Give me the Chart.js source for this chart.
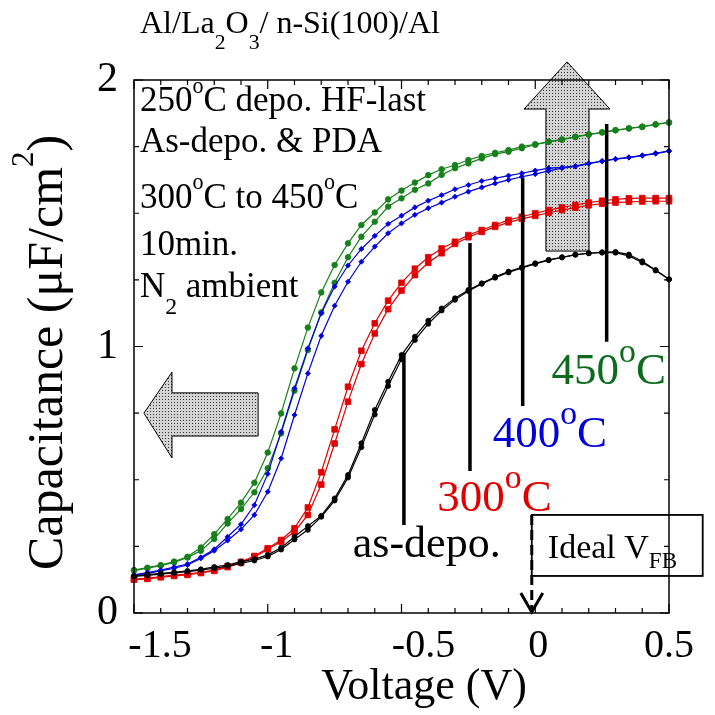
<!DOCTYPE html>
<html>
<head>
<meta charset="utf-8">
<script src="https://cdn.jsdelivr.net/npm/chart.js@4.4.1/dist/chart.umd.min.js"></script>
<style>
  html, body { margin: 0; padding: 0; background: #fff; }
  #wrap { width: 715px; height: 715px; }
</style>
</head>
<body>
<div id="wrap"><canvas id="cvChart" width="715" height="715"></canvas></div>
<script>
// gate voltage (V), one point every 50 mV
const voltage = [-1.5, -1.45, -1.4, -1.35, -1.3, -1.25, -1.2, -1.15, -1.1, -1.05,
  -1.0, -0.95, -0.9, -0.85, -0.8, -0.75, -0.7, -0.65, -0.6, -0.55,
  -0.5, -0.45, -0.4, -0.35, -0.3, -0.25, -0.2, -0.15, -0.1, -0.05,
  0, 0.05, 0.1, 0.15, 0.2, 0.25, 0.3, 0.35, 0.4, 0.45, 0.5];

// capacitance (uF/cm2), two sweeps per sample
const asDepoFwd = [0.139, 0.144, 0.149, 0.153, 0.158, 0.164, 0.173, 0.180, 0.193, 0.202,
  0.218, 0.245, 0.286, 0.326, 0.365, 0.430, 0.518, 0.637, 0.762, 0.868,
  0.968, 1.037, 1.097, 1.143, 1.181, 1.212, 1.237, 1.262, 1.281, 1.297,
  1.312, 1.325, 1.335, 1.345, 1.350, 1.352, 1.352, 1.340, 1.315, 1.285, 1.252];
const asDepoRev = [0.137, 0.141, 0.146, 0.150, 0.155, 0.161, 0.168, 0.176, 0.186, 0.197,
  0.212, 0.238, 0.276, 0.312, 0.361, 0.422, 0.508, 0.622, 0.745, 0.852,
  0.952, 1.024, 1.085, 1.135, 1.175, 1.208, 1.235, 1.258, 1.278, 1.295,
  1.310, 1.324, 1.334, 1.344, 1.350, 1.354, 1.355, 1.345, 1.320, 1.287, 1.252];
const pda300Fwd = [0.127, 0.130, 0.137, 0.142, 0.146, 0.153, 0.161, 0.176, 0.192, 0.214,
  0.243, 0.274, 0.318, 0.396, 0.528, 0.689, 0.849, 0.984, 1.087, 1.172,
  1.239, 1.292, 1.335, 1.368, 1.393, 1.418, 1.437, 1.456, 1.475, 1.487,
  1.500, 1.512, 1.522, 1.531, 1.540, 1.547, 1.552, 1.556, 1.557, 1.557, 1.557];
const pda300Rev = [0.125, 0.128, 0.134, 0.139, 0.143, 0.150, 0.158, 0.172, 0.188, 0.209,
  0.239, 0.268, 0.305, 0.368, 0.482, 0.636, 0.793, 0.934, 1.049, 1.140,
  1.210, 1.268, 1.314, 1.350, 1.385, 1.410, 1.430, 1.449, 1.466, 1.479,
  1.490, 1.502, 1.512, 1.521, 1.530, 1.536, 1.540, 1.543, 1.544, 1.545, 1.545];
const pda400Fwd = [0.143, 0.152, 0.161, 0.172, 0.184, 0.209, 0.239, 0.286, 0.333, 0.405,
  0.522, 0.680, 0.843, 0.993, 1.125, 1.225, 1.304, 1.366, 1.415, 1.460,
  1.491, 1.522, 1.547, 1.568, 1.590, 1.606, 1.621, 1.631, 1.641, 1.650,
  1.660, 1.669, 1.672, 1.677, 1.687, 1.696, 1.704, 1.710, 1.717, 1.725, 1.734];
const pda400Rev = [0.141, 0.149, 0.158, 0.168, 0.180, 0.205, 0.234, 0.272, 0.314, 0.368,
  0.455, 0.580, 0.743, 0.899, 1.040, 1.153, 1.243, 1.318, 1.375, 1.425,
  1.462, 1.494, 1.519, 1.540, 1.562, 1.581, 1.597, 1.612, 1.625, 1.637,
  1.647, 1.659, 1.669, 1.676, 1.686, 1.695, 1.703, 1.709, 1.716, 1.724, 1.733];
const pda450Fwd = [0.161, 0.170, 0.180, 0.193, 0.211, 0.246, 0.296, 0.353, 0.414, 0.489,
  0.602, 0.749, 0.918, 1.071, 1.203, 1.306, 1.387, 1.456, 1.503, 1.552,
  1.585, 1.615, 1.643, 1.665, 1.681, 1.700, 1.715, 1.727, 1.737, 1.750,
  1.759, 1.769, 1.777, 1.787, 1.796, 1.804, 1.812, 1.819, 1.825, 1.834, 1.841];
const pda450Rev = [0.159, 0.168, 0.178, 0.190, 0.208, 0.234, 0.278, 0.336, 0.390, 0.453,
  0.543, 0.674, 0.834, 0.987, 1.128, 1.239, 1.335, 1.412, 1.468, 1.525,
  1.556, 1.588, 1.612, 1.644, 1.669, 1.687, 1.706, 1.722, 1.731, 1.744,
  1.757, 1.768, 1.776, 1.786, 1.795, 1.803, 1.811, 1.818, 1.824, 1.833, 1.840];

const xTickValues = [-1.5, -1, -0.5, 0, 0.5];
const xTickLabels = ["-1.5", "-1", "-0.5", "0", "0.5"];
const yTickLabels = ["0", "1", "2"];

const serif = "'Liberation Serif', 'Times New Roman', Times, serif";
const GREEN = "#16801a", BLUE = "#0000dd", RED = "#e00000", BLACK = "#000";

function series(label, values, color, style, radius) {
  return {
    label: label,
    data: voltage.map((v, i) => ({ x: v, y: values[i] })),
    borderColor: color,
    backgroundColor: color,
    borderWidth: 1.2,
    pointStyle: style,
    pointRadius: radius,
    pointBorderWidth: 0.8,
    tension: 0,
    fill: false,
    clip: false,
  };
}

// text with sub/superscripts, parts = [[text, "n"|"sup"|"sub"], ...]
function drawRich(ctx, x, y, parts, size, opts) {
  opts = opts || {};
  const supScale = opts.supScale || 0.65, supShift = opts.supShift || 0.5;
  const subScale = opts.subScale || 0.68, subShift = opts.subShift || 0.45;
  ctx.save();
  ctx.fillStyle = opts.color || "#000";
  ctx.textBaseline = "alphabetic";
  ctx.textAlign = "left";
  let cx = x;
  parts.forEach(([text, kind]) => {
    let s = size, dy = 0;
    if (kind === "sup") { s = size * supScale; dy = -size * supShift; }
    if (kind === "sub") { s = size * subScale; dy = size * subShift; }
    ctx.font = s + "px " + serif;
    ctx.fillText(text, cx, y + dy);
    cx += ctx.measureText(text).width;
  });
  ctx.restore();
}

function stipple(ctx) {
  const c = document.createElement("canvas");
  c.width = 3; c.height = 3;
  const g = c.getContext("2d");
  g.fillStyle = "#d4d4d4"; g.fillRect(0, 0, 3, 3);
  g.fillStyle = "#333"; g.fillRect(0, 0, 1, 1);
  return ctx.createPattern(c, "repeat");
}

function polygon(ctx, pts) {
  ctx.beginPath();
  pts.forEach((p, i) => (i ? ctx.lineTo(p[0], p[1]) : ctx.moveTo(p[0], p[1])));
  ctx.closePath();
}

const notesPlugin = {
  id: "notes",
  beforeDatasetsDraw(chart) {
    const ctx = chart.ctx, xs = chart.scales.x, ys = chart.scales.y;
    const P = (x, y) => [xs.getPixelForValue(x), ys.getPixelForValue(y)];
    ctx.save();
    ctx.fillStyle = stipple(ctx);
    ctx.strokeStyle = "#000";
    ctx.lineWidth = 1;
    // up arrow (capacitance rises)
    polygon(ctx, [P(0.040, 1.358), P(0.040, 1.891), P(-0.042, 1.891), P(0.119, 2.068),
      P(0.279, 1.891), P(0.201, 1.891), P(0.201, 1.358)]);
    ctx.fill(); ctx.stroke();
    // left arrow (flat-band shift)
    polygon(ctx, [P(-1.036, 0.826), P(-1.358, 0.826), P(-1.358, 0.904), P(-1.463, 0.750),
      P(-1.358, 0.582), P(-1.358, 0.664), P(-1.036, 0.664)]);
    ctx.fill(); ctx.stroke();
    ctx.restore();
  },
  afterDatasetsDraw(chart) {
    const ctx = chart.ctx, xs = chart.scales.x, ys = chart.scales.y;
    const a = chart.chartArea;
    const X = (v) => xs.getPixelForValue(v), Y = (v) => ys.getPixelForValue(v);
    ctx.save();

    // frame
    ctx.strokeStyle = "#000";
    ctx.lineWidth = 1.5;
    ctx.strokeRect(a.left, a.top, a.right - a.left, a.bottom - a.top);

    // inward ticks on all four sides
    ctx.lineWidth = 1.2;
    ctx.beginPath();
    for (let i = 0; i <= 20; i++) {
      const v = -1.5 + i * 0.1, px = X(v);
      const len = (i % 5 === 0) ? 9 : 5;
      ctx.moveTo(px, a.bottom); ctx.lineTo(px, a.bottom - len);
      ctx.moveTo(px, a.top); ctx.lineTo(px, a.top + len);
    }
    for (let i = 0; i <= 8; i++) {
      const py = Y(i * 0.25);
      const len = (i % 4 === 0) ? 9 : 5;
      ctx.moveTo(a.left, py); ctx.lineTo(a.left + len, py);
      ctx.moveTo(a.right, py); ctx.lineTo(a.right - len, py);
    }
    ctx.stroke();

    // x tick labels (placed as in the original figure)
    const xLabelShift = [26, 9, 22, 3, 0];
    ctx.fillStyle = "#000";
    ctx.font = "40px " + serif;
    ctx.textAlign = "center";
    ctx.textBaseline = "alphabetic";
    xTickValues.forEach((v, i) => ctx.fillText(xTickLabels[i], X(v) + xLabelShift[i], a.bottom + 44));

    // x axis title
    ctx.font = "44px " + serif;
    ctx.fillText("Voltage (V)", 424, a.bottom + 86);

    // y axis title
    ctx.save();
    ctx.translate(62, 570);
    ctx.rotate(-Math.PI / 2);
    drawRich(ctx, 0, 0, [["Capacitance (\u03bcF/cm", "n"], ["2", "sup"], [")", "n"]], 50,
      { supScale: 0.62, supShift: 0.58 });
    ctx.restore();

    // top title
    drawRich(ctx, 140, 33, [["Al/La", "n"], ["2", "sub"], ["O", "n"], ["3", "sub"], ["/ n-Si(100)/Al", "n"]], 32,
      { subScale: 0.68, subShift: 0.5 });

    // process conditions
    const boxOpts = { supScale: 0.63, supShift: 0.53, subScale: 0.68, subShift: 0.5 };
    const bx = X(-1.478);
    drawRich(ctx, bx, Y(1.883), [["250", "n"], ["o", "sup"], ["C depo. HF-last", "n"]], 35, boxOpts);
    drawRich(ctx, bx, Y(1.730), [["As-depo. & PDA", "n"]], 35, boxOpts);
    drawRich(ctx, bx, Y(1.520), [["300", "n"], ["o", "sup"], ["C to 450", "n"], ["o", "sup"], ["C", "n"]], 35, boxOpts);
    drawRich(ctx, bx, Y(1.343), [["10min.", "n"]], 35, boxOpts);
    drawRich(ctx, bx, Y(1.186), [["N", "n"], ["2", "sub"], [" ambient", "n"]], 35, boxOpts);

    // leader lines from curves to their labels
    ctx.strokeStyle = "#000";
    ctx.lineWidth = 3.5;
    ctx.beginPath();
    [[-0.491, 0.977, 0.330], [-0.244, 1.388, 0.533], [-0.047, 1.632, 0.777], [0.267, 1.835, 1.018]]
      .forEach(([x, y1, y2]) => { ctx.moveTo(X(x), Y(y1)); ctx.lineTo(X(x), Y(y2)); });
    ctx.stroke();

    const bigOpts = { supScale: 0.75, supShift: 0.5 };
    drawRich(ctx, X(0.061), Y(0.859), [["450", "n"], ["o", "sup"], ["C", "n"]], 45, Object.assign({ color: "#0d6b1d" }, bigOpts));
    drawRich(ctx, X(-0.159), Y(0.624), [["400", "n"], ["o", "sup"], ["C", "n"]], 45, Object.assign({ color: BLUE }, bigOpts));
    drawRich(ctx, X(-0.366), Y(0.384), [["300", "n"], ["o", "sup"], ["C", "n"]], 45, Object.assign({ color: RED }, bigOpts));
    drawRich(ctx, X(-0.682), Y(0.210), [["as-depo.", "n"]], 44, bigOpts);

    // ideal flat-band voltage marker
    const vfb = X(-0.013);
    ctx.lineWidth = 1.8;
    ctx.strokeRect(vfb, Y(0.368), X(0.626) - vfb, Y(0.139) - Y(0.368));
    drawRich(ctx, X(0.047), Y(0.206), [["Ideal V", "n"], ["FB", "sub"]], 34, { subScale: 0.68, subShift: 0.3 });
    ctx.lineWidth = 3;
    ctx.setLineDash([10, 5]);
    ctx.beginPath();
    ctx.moveTo(vfb, Y(0.368)); ctx.lineTo(vfb, a.bottom - 2);
    ctx.stroke();
    ctx.setLineDash([]);
    ctx.beginPath();
    ctx.moveTo(vfb - 11, a.bottom - 20); ctx.lineTo(vfb, a.bottom - 1); ctx.lineTo(vfb + 11, a.bottom - 20);
    ctx.stroke();

    ctx.restore();
  },
};

new Chart(document.getElementById("cvChart").getContext("2d"), {
  type: "line",
  data: {
    datasets: [
      series("as-depo. fwd", asDepoFwd, BLACK, "circle", 2.5),
      series("as-depo. rev", asDepoRev, BLACK, "circle", 2.5),
      series("300C fwd", pda300Fwd, RED, "rect", 4),
      series("300C rev", pda300Rev, RED, "rect", 4),
      series("400C fwd", pda400Fwd, BLUE, "rectRot", 2.6),
      series("400C rev", pda400Rev, BLUE, "rectRot", 2.6),
      series("450C fwd", pda450Fwd, GREEN, "circle", 2.8),
      series("450C rev", pda450Rev, GREEN, "circle", 2.8),
    ],
  },
  options: {
    responsive: false,
    animation: false,
    layout: { padding: { top: 80, right: 46, left: 0, bottom: 0 } },
    plugins: { legend: { display: false }, tooltip: { enabled: false } },
    scales: {
      x: {
        type: "linear",
        min: -1.5,
        max: 0.5,
        grid: { display: false },
        border: { display: false },
        ticks: { display: false },
        afterFit(scale) { scale.height = 102; },
      },
      y: {
        min: 0,
        max: 2,
        grid: { display: false, drawTicks: false },
        border: { display: false },
        ticks: {
          stepSize: 1,
          color: "#000",
          padding: 16,
          font: { family: serif, size: 42 },
          callback: (v) => yTickLabels[Math.round(v)],
        },
        afterFit(scale) { scale.width = 134; },
      },
    },
  },
  plugins: [notesPlugin],
});
</script>
</body>
</html>
